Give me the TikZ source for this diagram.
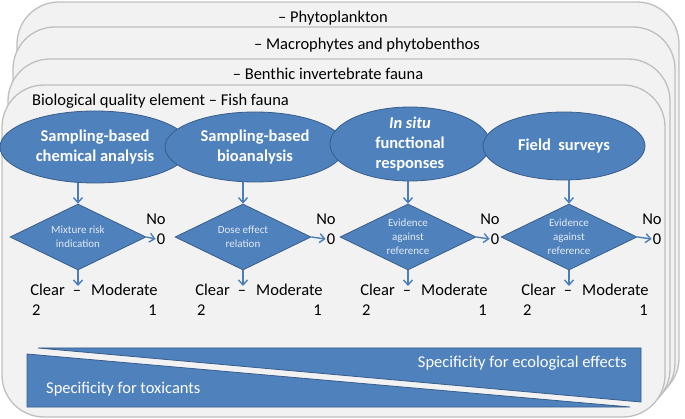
\documentclass[tikz,border=0pt]{standalone}
\usepackage{fontspec}
\setmainfont{Carlito}
\usetikzlibrary{shapes.geometric,arrows.meta}
\definecolor{cardfill}{HTML}{F2F2F2}
\definecolor{carddraw}{HTML}{BFBFBF}
\definecolor{blfill}{HTML}{4F81BD}
\definecolor{bldraw}{HTML}{385D8A}
\definecolor{arrcol}{HTML}{4A7EBB}
\definecolor{dtext}{HTML}{E2EAF4}
\begin{document}
\begin{tikzpicture}[x=1pt,y=-1pt,
  card/.style={fill=cardfill,draw=carddraw,line width=1.3pt,rounded corners=42pt},
  oval/.style 2 args={ellipse,fill=blfill,draw=bldraw,line width=0.8pt,inner sep=0pt,minimum width=#1,minimum height=#2},
  ovaltext/.style={align=center,text=white,font=\bfseries\fontsize{16.5}{20}\selectfont,inner sep=0pt},
  dia/.style={diamond,fill=blfill,draw=bldraw,line width=0.8pt,inner sep=0pt,minimum width=136pt,minimum height=66pt},
  diatext/.style={align=center,text=dtext,font=\fontsize{11}{14}\selectfont,inner sep=0pt},
  lbl/.style={font=\fontsize{16.5}{20}\selectfont,inner sep=0pt,text=black},
  arr/.style={draw=arrcol,line width=1.4pt,-{Straight Barb[length=5pt,width=9pt]}},
  wedge/.style={fill=blfill,draw=bldraw,line width=0.8pt},
  wtext/.style={font=\fontsize{16.5}{20}\selectfont,text=white,inner sep=0pt}
]
\useasboundingbox (0,0) rectangle (685,419);
% stacked cards
\draw[card] (17,2) rectangle (679,400);
\draw[card] (13,27) rectangle (675,405);
\draw[card] (8,59) rectangle (670,411);
\draw[card] (2,85) rectangle (665,417);
\node[lbl] (l1) at (333,18) {– Phytoplankton};
\node[lbl] (l2) at (367,45) {– Macrophytes and phytobenthos};
\node[lbl] (l3) at (328,74) {– Benthic invertebrate fauna};
\node[lbl,anchor=west] (l4) at (32,101) {Biological quality element – Fish fauna};
% ellipses
\node[oval={190pt}{72pt}] (e1) at (95,147) {};
\node[ovaltext] (t1) at (e1) {Sampling-based\\chemical analysis};
\node[oval={180pt}{70pt}] (e2) at (255,147) {};
\node[ovaltext] (t2) at (e2) {Sampling-based\\bioanalysis};
\node[oval={160pt}{74pt}] (e3) at (410,144) {};
\node[ovaltext] (t3) at (e3) {\itshape In situ\\functional\\responses};
\node[oval={162pt}{68pt}] (e4) at (564,146) {};
\node[ovaltext] (t4) at (e4) {Field\ \ surveys};
% diamonds
\node[dia] (d1) at (78,237) {};
\node[diatext] (dt1) at (d1) {Mixture risk\\indication};
\node[dia] (d2) at (243,237) {};
\node[diatext] (dt2) at (d2) {Dose effect\\relation};
\node[dia] (d3) at (408,237) {};
\node[diatext] (dt3) at (d3) {Evidence\\against\\reference};
\node[dia] (d4) at (569,237) {};
\node[diatext] (dt4) at (d4) {Evidence\\against\\reference};
% arrows ellipse -> diamond
\draw[arr] (d1.north |- e1.south) -- (d1.north);
\draw[arr] (d2.north |- e2.south) -- (d2.north);
\draw[arr] (d3.north |- e3.south) -- (d3.north);
\draw[arr] (d4.north |- e4.south) -- (d4.north);
% No / 0
\node[lbl] (n1) at (156,219) {No};
\node[lbl,inner sep=1pt] (z1) at (161,239) {0};
\node[lbl] (n2) at (326,219) {No};
\node[lbl,inner sep=1pt] (z2) at (331,239) {0};
\node[lbl] (n3) at (490,219) {No};
\node[lbl,inner sep=1pt] (z3) at (495,239) {0};
\node[lbl] (n4) at (652,219) {No};
\node[lbl,inner sep=1pt] (z4) at (657,239) {0};
\draw[arr] (d1.east) -- (z1.west);
\draw[arr] (d2.east) -- (z2.west);
\draw[arr] (d3.east) -- (z3.west);
\draw[arr] (d4.east) -- (z4.west);
% outcome rows
\foreach \i/\c in {1/78,2/243,3/408,4/569}{
  \coordinate (tip\i) at (\c,286);
  \node[lbl,anchor=base] (m\i) at (\c-1,296) {–};
  \node[lbl,anchor=base east] (c\i) at (\c-13,296) {Clear};
  \node[lbl,anchor=base west] (o\i) at (\c+13,296) {Moderate};
  \node[lbl,anchor=base west] (two\i) at (\c-46,316) {2};
  \node[lbl,anchor=base east] (one\i) at (\c+79,316) {1};
}
\draw[arr] (d1.south) -- (tip1);
\draw[arr] (d2.south) -- (tip2);
\draw[arr] (d3.south) -- (tip3);
\draw[arr] (d4.south) -- (tip4);
% specificity wedges
\draw[wedge] (38,348) -- (641,348) -- (641,402) -- cycle;
\draw[wedge] (27,354) -- (630,407) -- (27,407) -- cycle;
\node[wtext,anchor=east] (se) at (627,363) {Specificity for ecological effects};
\node[wtext,anchor=west] (st) at (46,389) {Specificity for toxicants};
\end{tikzpicture}
\end{document}
